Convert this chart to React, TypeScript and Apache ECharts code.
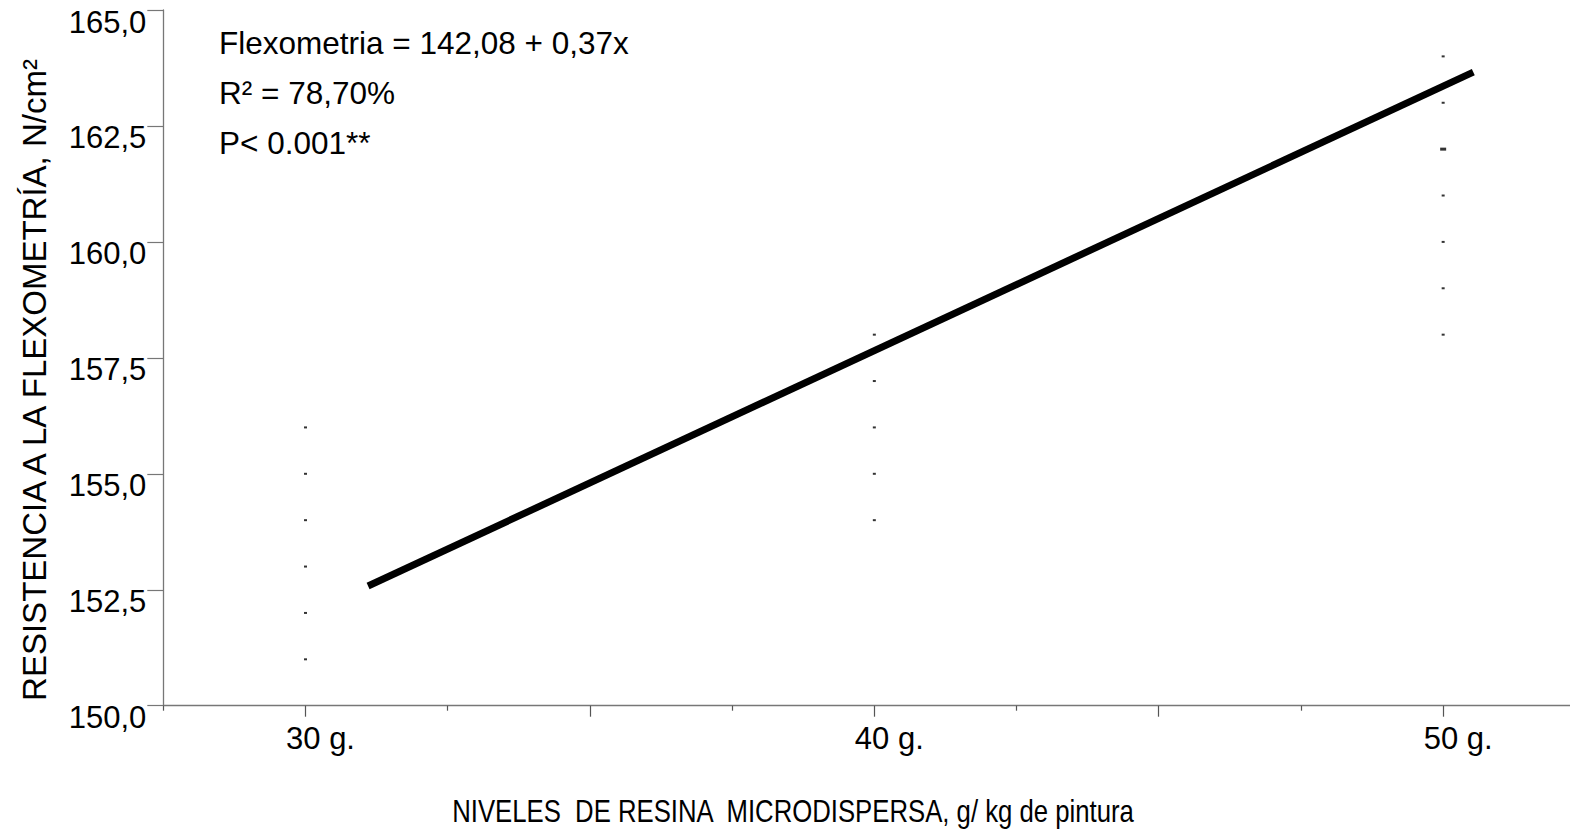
import React, { useEffect, useRef } from "react";
import * as echarts from "echarts";

// Observed values (g of resin per kg of paint -> flexometry resistance, N/cm2)
const levels = [30, 40, 50];
const obs30 = [151, 152, 153, 154, 155, 156];
const obs40 = [154, 155, 156, 157, 158];
const obs50 = [158, 159, 160, 161, 162, 162, 163, 164];
// Fitted line drawn in the figure (end points)
const fitX = [31.1, 50.53];
const fitY = [152.58, 163.66];

const xMajor = [30, 35, 40, 45, 50];
const xMinor = [27.5, 32.5, 37.5, 42.5, 47.5];
const xLabelVals = [30, 40, 50];

const annot = ["Flexometria = 142,08 + 0,37x", "R\u00b2 = 78,70%", "P< 0.001**"];
const xTitle = "NIVELES  DE RESINA  MICRODISPERSA, g/ kg de pintura";
const yTitle = "RESISTENCIA A LA FLEXOMETRÍA, N/cm\u00b2";

const FONT = "'Liberation Sans', Arial, Helvetica, sans-serif";

export default function App() {
  const ref = useRef<HTMLDivElement>(null);
  useEffect(() => {
    const chart = echarts.init(ref.current!, undefined, { renderer: "svg" });
    const groups = [obs30, obs40, obs50];
    const pts: any[] = [];
    levels.forEach((lv, i) => {
      const seen: Record<string, number> = {};
      groups[i].forEach((v) => {
        seen[v] = (seen[v] || 0) + 1;
      });
      Object.keys(seen).forEach((k) => {
        const c = seen[k];
        pts.push({
          value: [lv, Number(k)],
          symbolSize: c > 1 ? [6, 3] : [3, 2],
        });
      });
    });

    const axisCommon = {
      type: "value",
      min: 27.5,
      max: 52.23,
      interval: 2.5,
      splitLine: { show: false },
    };

    chart.setOption({
      animation: false,
      textStyle: { fontFamily: FONT },
      grid: { left: 163.3, top: 10, right: 0, bottom: 126.3, containLabel: false },
      xAxis: [
        {
          ...axisCommon,
          position: "bottom",
          axisLine: { show: true, onZero: false, lineStyle: { color: "#777", width: 1.3 } },
          axisTick: {
            show: true,
            customValues: xMajor,
            length: 11,
            lineStyle: { color: "#555", width: 1.2 },
          },
          axisLabel: {
            show: true,
            customValues: xLabelVals,
            formatter: (v: number) => `${v} g.`,
            fontSize: 31,
            color: "#000",
            fontFamily: FONT,
            margin: 17,
            padding: [0, 0, 0, 30],
          },
        },
        {
          ...axisCommon,
          position: "bottom",
          axisLine: { show: false },
          axisTick: {
            show: true,
            customValues: xMinor,
            length: 5,
            lineStyle: { color: "#555", width: 1.2 },
          },
          axisLabel: { show: false },
        },
      ],
      yAxis: {
        type: "value",
        min: 150,
        max: 165,
        interval: 2.5,
        splitLine: { show: false },
        axisLine: { show: true, onZero: false, lineStyle: { color: "#777", width: 1.3 } },
        axisTick: { show: true, length: 16, lineStyle: { color: "#777", width: 1.2 } },
        axisLabel: {
          fontSize: 31,
          color: "#000",
          fontFamily: FONT,
          margin: 17,
          verticalAlign: "top",
          lineHeight: 24,
          formatter: (v: number) => v.toFixed(1).replace(".", ","),
        },
      },
      graphic: [
        ...annot.map((t, i) => ({
          type: "text",
          left: 219,
          top: 45 + i * 50 - 18,
          style: { text: t, font: `31.5px ${FONT}`, fill: "#000" },
        })),
        {
          type: "text",
          x: 793,
          y: 811,
          scaleX: 0.83,
          style: {
            text: xTitle,
            font: `31px ${FONT}`,
            fill: "#000",
            align: "center",
            verticalAlign: "middle",
          },
        },
        {
          type: "text",
          x: 34,
          y: 380,
          rotation: Math.PI / 2,
          style: {
            text: yTitle,
            font: `33px ${FONT}`,
            fill: "#000",
            align: "center",
            verticalAlign: "middle",
          },
        },
      ],
      series: [
        {
          type: "scatter",
          xAxisIndex: 0,
          symbol: "rect",
          itemStyle: { color: "#000" },
          data: pts,
          z: 3,
        },
        {
          type: "line",
          xAxisIndex: 0,
          data: fitX.map((x, i) => [x, fitY[i]]),
          symbol: "none",
          lineStyle: { color: "#000", width: 7, cap: "butt" },
          z: 4,
        },
      ],
    });
    return () => chart.dispose();
  }, []);
  return (
    <div
      ref={ref}
      style={{ position: "fixed", left: 0, top: 0, width: 1570, height: 832, background: "#fff" }}
    />
  );
}
